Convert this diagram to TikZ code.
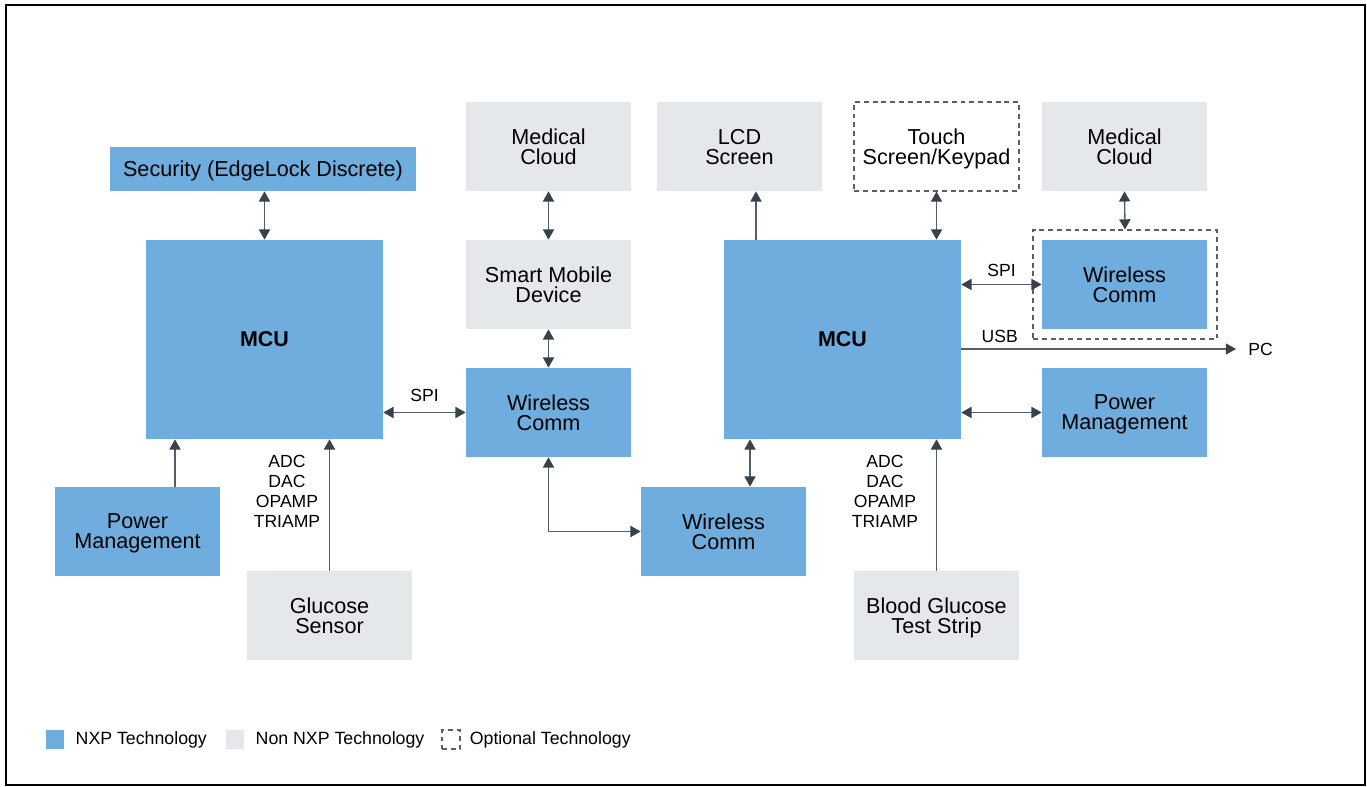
\documentclass[tikz,border=0pt]{standalone}
\usepackage{fontspec}
\setmainfont{Liberation Sans}
\usetikzlibrary{arrows.meta,positioning,calc}
\definecolor{nxpblue}{HTML}{6FADDE}
\definecolor{nonnxp}{HTML}{E4E8EB}
\definecolor{linkgray}{HTML}{36424C}
\definecolor{dashgray}{HTML}{5A5F63}
\tikzset{
    block/.style = {
        minimum width=3.3cm,
        minimum height=1.78cm,
        align=center,
        inner sep=0pt,
        text depth=0pt,
        font=\fontsize{12.3}{11.4}\selectfont,
        },
    nxp/.style = {
        block,
        fill=nxpblue,
        },
    non nxp/.style = {
        block,
        fill=nonnxp,
        },
    optional/.style = {
        draw=dashgray,
        line width=0.6pt,
        dash pattern=on 2.8pt off 2.2pt,
        },
    mcu/.style = {
        nxp,
        minimum width=4.74cm,
        minimum height=3.98cm,
        font=\fontsize{12.2}{12}\selectfont\bfseries,
        },
    link/.style = {
        draw=linkgray!85!white,
        line width=0.8pt,
        >={Triangle[length=5.8pt,width=6.3pt,color=linkgray]},
        },
    bus/.style = {
        font=\fontsize{10}{11.4}\selectfont,
        align=center,
        inner sep=0pt,
        },
    key/.style = {
        minimum width=0.36cm,
        minimum height=0.38cm,
        inner sep=0pt,
        },
    legend/.style = {
        font=\fontsize{10.1}{11}\selectfont,
        inner sep=0pt,
        },
}

\begin{document}
\begin{tikzpicture}[x=0.02cm, y=-0.02cm]
    \useasboundingbox (0,0) rectangle (1367,787);
    \draw[line width=1.1pt] (6,5) rectangle (1365,785);

    % left side
    \node[nxp, minimum width=6.12cm, minimum height=0.88cm] (sec) at (263,169) {Security (EdgeLock Discrete)};
    \node[mcu] (mcuL) at (264.5,339.5) {MCU};
    \node[nxp] (pwrL) at (137.5,531.5) {Power\\Management};
    \node[non nxp] (glu) at (329.5,615.5) {Glucose\\Sensor};

    % middle
    \node[non nxp] (cloudA) at (548.5,146.5) {Medical\\Cloud};
    \node[non nxp] (phone) at (548.5,284.5) {Smart Mobile\\Device};
    \node[nxp] (wlA) at (548.5,412.5) {Wireless\\Comm};
    \node[nxp] (wlB) at (723.5,531.5) {Wireless\\Comm};

    % right side
    \node[non nxp] (lcd) at (739.5,146.5) {LCD\\Screen};
    \node[block, optional] (touch) at (936.5,146.5) {Touch\\Screen/Keypad};
    \node[non nxp] (cloudB) at (1124.5,146.5) {Medical\\Cloud};
    \node[mcu] (mcuR) at (842.5,339.5) {MCU};
    \node[optional, minimum width=3.68cm, minimum height=2.18cm] (wlFrame) at (1125,284.5) {};
    \node[nxp] (wlC) at (1124.5,284.5) {Wireless\\Comm};
    \node[nxp] (pwrR) at (1124.5,412.5) {Power\\Management};
    \node[non nxp] (strip) at (936.5,615.5) {Blood Glucose\\Test Strip};
    \node[bus, anchor=west, inner xsep=6.8pt] (pc) at (1236,349) {PC};

    % connectors
    \draw[link, <->] (sec.south -| mcuL) -- (mcuL.north);
    \draw[link, ->] ([xshift=0.75cm]pwrL.north) -- ([xshift=0.75cm]pwrL.north |- mcuL.south);
    \draw[link, ->] (glu.north) -- (glu.north |- mcuL.south);
    \draw[link, <->] (mcuL.east |- wlA) -- node[bus, above=0.21cm] {SPI} (wlA.west);
    \draw[link, <->] (cloudA.south) -- (phone.north);
    \draw[link, <->] (phone.south) -- (wlA.north);
    \draw[link, <->] (wlA.south) |- (wlB.west);
    \draw[link, <->] ([xshift=0.53cm]wlB.north) -- ([xshift=0.53cm]wlB.north |- mcuR.south);
    \draw[link, ->] ([xshift=0.33cm]lcd.south |- mcuR.north) -- ([xshift=0.33cm]lcd.south);
    \draw[link, <->] (touch.south) -- (touch.south |- mcuR.north);
    \draw[link, <->] (cloudB.south) -- (wlFrame.north);
    \draw[link, <->] (mcuR.east |- wlC) -- node[bus, above=0.15cm] {SPI} (wlC.west);
    \draw[link, ->] (mcuR.east |- pc) -- node[bus, above=0.11cm, pos=0.14] {USB} (pc.west);
    \draw[link, <->] (mcuR.east |- pwrR) -- (pwrR.west);
    \draw[link, ->] (strip.north) -- (strip.north |- mcuR.south);

    \node[bus] (busL) at (287,491) {ADC\\DAC\\OPAMP\\TRIAMP};
    \node[bus] (busR) at (885,491) {ADC\\DAC\\OPAMP\\TRIAMP};

    % legend
    \node[key, fill=nxpblue] (keyNxp) at (55,739.5) {};
    \node[legend, right=0.22cm of keyNxp] (txtNxp) {NXP Technology};
    \node[key, fill=nonnxp] (keyNon) at (235,739.5) {};
    \node[legend, right=0.22cm of keyNon] (txtNon) {Non NXP Technology};
    \node[key, optional] (keyOpt) at (451,739.5) {};
    \node[legend, right=0.18cm of keyOpt] (txtOpt) {Optional Technology};
\end{tikzpicture}
\end{document}
